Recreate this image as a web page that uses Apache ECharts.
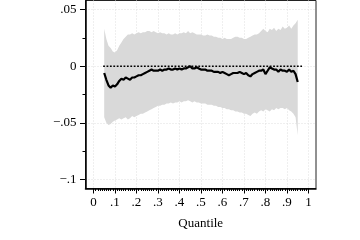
<!DOCTYPE html>
<html><head><meta charset="utf-8">
<script src="https://cdn.jsdelivr.net/npm/echarts@6/dist/echarts.min.js"></script>
<style>html,body{margin:0;padding:0;background:#fff}#c{width:360px;height:240px}</style>
</head><body><div id="c"></div>
<script>
const quantiles = [0.05,0.06,0.07,0.08,0.09,0.10,0.11,0.12,0.13,0.14,0.15,0.16,0.17,0.18,0.19,0.20,0.21,0.22,0.23,0.24,0.25,0.26,0.27,0.28,0.29,0.30,0.31,0.32,0.33,0.34,0.35,0.36,0.37,0.38,0.39,0.40,0.41,0.42,0.43,0.44,0.45,0.46,0.47,0.48,0.49,0.50,0.51,0.52,0.53,0.54,0.55,0.56,0.57,0.58,0.59,0.60,0.61,0.62,0.63,0.64,0.65,0.66,0.67,0.68,0.69,0.70,0.71,0.72,0.73,0.74,0.75,0.76,0.77,0.78,0.79,0.80,0.81,0.82,0.83,0.84,0.85,0.86,0.87,0.88,0.89,0.90,0.91,0.92,0.93,0.94,0.95];
const estimate = [-0.006,-0.012,-0.017,-0.019,-0.017,-0.018,-0.016,-0.013,-0.011,-0.012,-0.010,-0.011,-0.012,-0.010,-0.010,-0.009,-0.008,-0.008,-0.007,-0.006,-0.005,-0.004,-0.003,-0.004,-0.004,-0.004,-0.003,-0.004,-0.003,-0.003,-0.002,-0.003,-0.003,-0.002,-0.003,-0.002,-0.003,-0.002,-0.002,-0.001,0.000,-0.002,-0.002,-0.001,-0.002,-0.003,-0.003,-0.003,-0.004,-0.004,-0.004,-0.005,-0.005,-0.005,-0.006,-0.005,-0.006,-0.007,-0.008,-0.007,-0.006,-0.006,-0.006,-0.005,-0.006,-0.007,-0.006,-0.008,-0.009,-0.007,-0.006,-0.005,-0.004,-0.004,-0.003,-0.007,-0.004,-0.001,-0.002,-0.003,-0.003,-0.005,-0.003,-0.004,-0.004,-0.005,-0.003,-0.005,-0.004,-0.007,-0.014];
const upper = [0.033,0.024,0.018,0.016,0.013,0.012,0.014,0.018,0.021,0.024,0.026,0.028,0.028,0.029,0.028,0.029,0.030,0.029,0.030,0.030,0.031,0.031,0.030,0.031,0.030,0.029,0.030,0.029,0.029,0.028,0.029,0.028,0.028,0.029,0.028,0.029,0.029,0.030,0.029,0.031,0.029,0.030,0.029,0.028,0.028,0.028,0.027,0.027,0.028,0.027,0.027,0.026,0.026,0.025,0.025,0.024,0.025,0.024,0.024,0.024,0.025,0.026,0.026,0.025,0.025,0.024,0.024,0.025,0.026,0.027,0.028,0.028,0.029,0.031,0.033,0.031,0.030,0.033,0.032,0.034,0.031,0.033,0.032,0.035,0.033,0.034,0.036,0.033,0.036,0.038,0.041];
const lower = [-0.045,-0.050,-0.052,-0.051,-0.049,-0.048,-0.047,-0.046,-0.047,-0.046,-0.045,-0.047,-0.046,-0.044,-0.045,-0.044,-0.043,-0.042,-0.042,-0.041,-0.040,-0.039,-0.038,-0.037,-0.036,-0.035,-0.035,-0.034,-0.034,-0.033,-0.033,-0.032,-0.033,-0.032,-0.032,-0.031,-0.032,-0.031,-0.031,-0.030,-0.031,-0.032,-0.031,-0.032,-0.032,-0.033,-0.033,-0.033,-0.034,-0.034,-0.034,-0.035,-0.035,-0.036,-0.036,-0.037,-0.037,-0.038,-0.038,-0.039,-0.039,-0.040,-0.040,-0.041,-0.041,-0.042,-0.042,-0.043,-0.044,-0.042,-0.041,-0.042,-0.040,-0.039,-0.040,-0.038,-0.039,-0.040,-0.038,-0.039,-0.037,-0.038,-0.037,-0.037,-0.038,-0.037,-0.039,-0.040,-0.042,-0.045,-0.061];
const zeroLineX = [0.045, 0.97];
const zeroLineY = [0, 0];
const xMajorTicks = [0,0.1,0.2,0.3,0.4,0.5,0.6,0.7,0.8,0.9,1];
const xTickLabels = ['0','.1','.2','.3','.4','.5','.6','.7','.8','.9','1'];
const yMajorTicks = [-0.1,-0.05,0,0.05];
const yTickLabels = ['\u2212.1','\u2212.05','0','.05'];
const yMinorTicks = [-0.075,-0.025,0.025];
const xMinorTicks = [];
for (let i = 0; i <= 100; i++) xMinorTicks.push(i / 100);

const font = 'Liberation Serif';
const lblX = v => { const i = xMajorTicks.findIndex(t => Math.abs(t - v) < 1e-6); return i >= 0 ? xTickLabels[i] : ''; };
const lblY = v => { const i = yMajorTicks.findIndex(t => Math.abs(t - v) < 1e-6); return i >= 0 ? yTickLabels[i] : ''; };
const XMIN = -0.037, XMAX = 1.035, YMIN = -0.108, YMAX = 0.058;

const bandData = quantiles.map((q, i) => [q, lower[i], upper[i]]);

const chart = echarts.init(document.getElementById('c'), null, {renderer: 'canvas'});
chart.setOption({
  animation: false,
  backgroundColor: '#fff',
  grid: {left: 85.5, right: 44, top: 0.5, bottom: 51.5, show: true, borderColor: '#222', borderWidth: 1, backgroundColor: 'transparent', containLabel: false, outerBoundsMode: 'none'},
  xAxis: [{
    type: 'value', min: XMIN, max: XMAX,
    axisLine: {show: true, onZero: false, lineStyle: {color: '#000', width: 1.5}},
    axisTick: {show: true, customValues: xMajorTicks, length: 5, lineStyle: {color: '#000', width: 1}},
    axisLabel: {customValues: xMajorTicks, formatter: lblX, color: '#000', fontFamily: font, fontSize: 13, margin: 8},
    splitLine: {show: true, lineStyle: {color: '#dedede', type: [1, 2], width: 1}},
    name: 'Quantile', nameLocation: 'middle', nameGap: 29, nameTextStyle: {color: '#000', fontFamily: font, fontSize: 13}
  }, {
    type: 'value', min: XMIN, max: XMAX, position: 'bottom',
    axisLine: {show: false, onZero: false},
    axisTick: {show: true, customValues: xMinorTicks, length: 2.5, lineStyle: {color: '#000', width: 1}},
    axisLabel: {show: false},
    splitLine: {show: false}
  }],
  yAxis: [{
    type: 'value', min: YMIN, max: YMAX,
    axisLine: {show: true, onZero: false, lineStyle: {color: '#000', width: 1.5}},
    axisTick: {show: true, customValues: yMajorTicks, length: 5.5, lineStyle: {color: '#000', width: 1}},
    axisLabel: {customValues: yMajorTicks, formatter: lblY, color: '#000', fontFamily: font, fontSize: 13, margin: 9},
    splitLine: {show: true, lineStyle: {color: '#dedede', type: [1, 2], width: 1}}
  }, {
    type: 'value', min: YMIN, max: YMAX, position: 'left',
    axisLine: {show: false, onZero: false},
    axisTick: {show: true, customValues: yMinorTicks, length: 3, lineStyle: {color: '#000', width: 1}},
    axisLabel: {show: false},
    splitLine: {show: false}
  }],
  series: [{
    type: 'custom', name: 'band',
    data: [0],
    silent: true, z: 1, clip: true,
    renderItem: function (params, api) {
      const top = bandData.map(d => api.coord([d[0], d[2]]));
      const bot = bandData.slice().reverse().map(d => api.coord([d[0], d[1]]));
      return {type: 'polygon', shape: {points: top.concat(bot)}, style: {fill: '#d9d9d9', stroke: null}};
    }
  }, {
    type: 'line', name: 'zero',
    data: zeroLineX.map((x, i) => [x, zeroLineY[i]]),
    symbol: 'none', lineStyle: {color: '#000', width: 1.6, type: [1.8, 1.6]}, silent: true, z: 2
  }, {
    type: 'line', name: 'estimate',
    data: quantiles.map((q, i) => [q, estimate[i]]),
    symbol: 'none', lineStyle: {color: '#000', width: 2.2}, silent: true, z: 3
  }]
});
</script></body></html>
